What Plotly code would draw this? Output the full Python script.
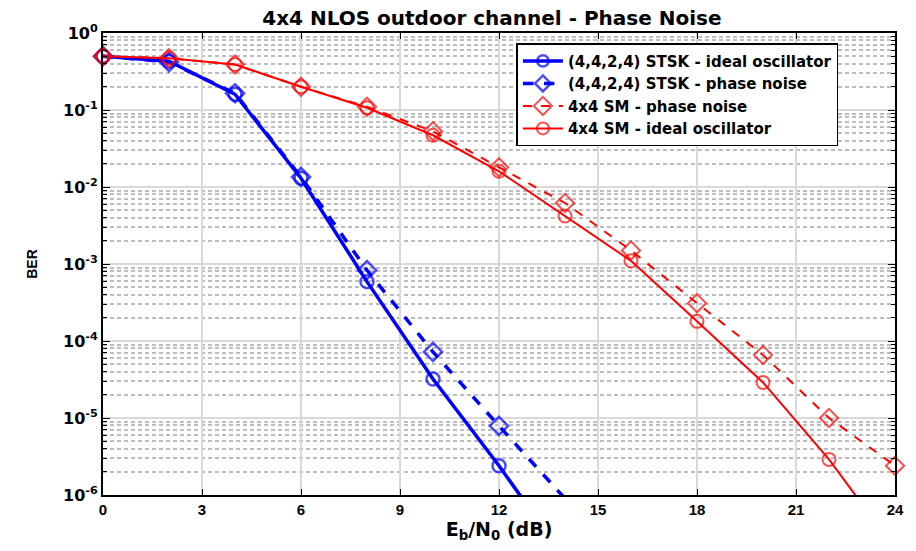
import plotly.graph_objects as go

ebn0 = [0, 2, 4, 6, 8, 10, 12, 14]
stsk_ideal = [0.5, 0.43, 0.16, 0.013, 5.9e-4, 3.2e-5, 2.4e-6, 1.5e-7]
stsk_pn = [0.5, 0.42, 0.165, 0.0135, 8.3e-4, 7.2e-5, 7.9e-6, 9e-7]

ebn0_sm = [0, 2, 4, 6, 8, 10, 12, 14, 16, 18, 20, 22, 24]
sm_pn = [0.5, 0.47, 0.39, 0.2, 0.11, 0.053, 0.018, 6.2e-3, 1.5e-3, 3.1e-4, 6.6e-5, 1.0e-5, 2.4e-6]
sm_ideal = [0.5, 0.47, 0.39, 0.2, 0.107, 0.047, 0.016, 4.2e-3, 1.1e-3, 1.8e-4, 2.9e-5, 2.9e-6, 2e-7]

names = ["(4,4,2,4) STSK - ideal oscillator", "(4,4,2,4) STSK - phase noise",
         "4x4 SM - phase noise", "4x4 SM - ideal oscillator"]

xticks = [0, 3, 6, 9, 12, 15, 18, 21, 24]
yticks = [1, 1e-1, 1e-2, 1e-3, 1e-4, 1e-5, 1e-6]
ytext = ["10<sup>0</sup>", "10<sup>-1</sup>", "10<sup>-2</sup>", "10<sup>-3</sup>",
         "10<sup>-4</sup>", "10<sup>-5</sup>", "10<sup>-6</sup>"]


def sizes(ys, s):
    return [s if y >= 1e-6 else 0 for y in ys]


fig = go.Figure()
fig.add_trace(go.Scatter(x=ebn0, y=stsk_ideal, name=names[0], mode="lines+markers",
                         line=dict(color="#0000ff", width=3.5),
                         marker=dict(symbol="circle-open", size=sizes(stsk_ideal, 13),
                                     line=dict(width=2.5, color="#0000ff")),
                         cliponaxis=False))
fig.add_trace(go.Scatter(x=ebn0, y=stsk_pn, name=names[1], mode="lines+markers",
                         line=dict(color="#0000ff", width=3.5, dash="dash"),
                         marker=dict(symbol="diamond-open", size=sizes(stsk_pn, 14),
                                     line=dict(width=2.5, color="#0000ff")),
                         cliponaxis=False))
fig.add_trace(go.Scatter(x=ebn0_sm, y=sm_pn, name=names[2], mode="lines+markers",
                         line=dict(color="#ff0000", width=2, dash="dash"),
                         marker=dict(symbol="diamond-open", size=sizes(sm_pn, 14),
                                     line=dict(width=2, color="#ff0000")),
                         cliponaxis=False))
fig.add_trace(go.Scatter(x=ebn0_sm, y=sm_ideal, name=names[3], mode="lines+markers",
                         line=dict(color="#ff0000", width=2),
                         marker=dict(symbol="circle-open", size=sizes(sm_ideal, 13),
                                     line=dict(width=2, color="#ff0000")),
                         cliponaxis=False))

FONT = "DejaVu Sans"
xtickfont = dict(family="Liberation Sans", size=15, color="black", weight="bold")
ytickfont = dict(family=FONT, size=16, color="black", weight="bold")

fig.update_layout(
    width=916, height=551,
    margin=dict(l=103, r=19, t=33, b=56),
    paper_bgcolor="white", plot_bgcolor="white",
    title=dict(text="4x4 NLOS outdoor channel - Phase Noise", x=0.537, xanchor="center",
               y=0.968, yanchor="middle",
               font=dict(family=FONT, size=20, color="black", weight="bold")),
    showlegend=True,
    legend=dict(x=0.522, y=0.978, xanchor="left", yanchor="top",
                bgcolor="white", bordercolor="black", borderwidth=1.5,
                font=dict(family=FONT, size=15, color="black", weight="bold"),
                tracegroupgap=0, itemwidth=40),
    xaxis=dict(range=[0, 24], tickvals=xticks, ticktext=[str(v) for v in xticks],
               showgrid=True, gridcolor="#d9d9d9", gridwidth=1.5,
               showline=True, linecolor="black", linewidth=2, mirror="ticks",
               ticks="inside", ticklen=6, tickcolor="black", zeroline=False,
               tickfont=xtickfont,
               title=dict(text="E<sub>b</sub>/N<sub>0</sub> (dB)", standoff=4,
                          font=dict(family=FONT, size=19, color="black", weight="bold"))),
    yaxis=dict(type="log", range=[-6, 0], tickvals=yticks, ticktext=ytext,
               showgrid=True, gridcolor="#d9d9d9", gridwidth=1.5,
               showline=True, linecolor="black", linewidth=2, mirror="ticks",
               ticks="inside", ticklen=7, tickcolor="black", zeroline=False,
               tickfont=ytickfont,
               minor=dict(dtick="D1", showgrid=True, gridcolor="#bdbdbd", griddash="4px,3px",
                          gridwidth=1.5, ticks="inside", ticklen=4, tickcolor="black"),
               title=dict(text="BER", standoff=22,
                          font=dict(family="Liberation Sans", size=14, color="black", weight="bold"))),
)

fig.write_html("out.html")
